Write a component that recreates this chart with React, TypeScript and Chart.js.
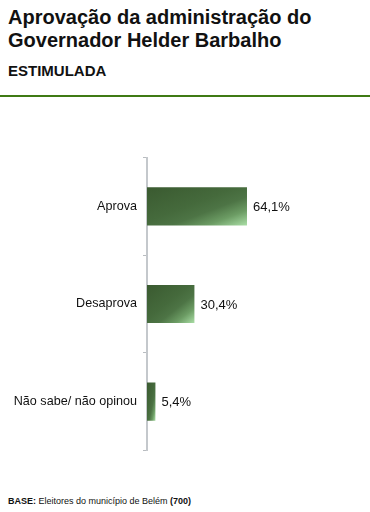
import React, { useEffect, useRef } from "react";
import { Chart, registerables } from "chart.js";

Chart.register(...registerables);

const categories = ["Aprova", "Desaprova", "Não sabe/ não opinou"];
const values = [64.1, 30.4, 5.4];
const valueLabels = ["64,1%", "30,4%", "5,4%"];

const FONT = "'Liberation Sans', Arial, sans-serif";

const valueLabelPlugin = {
  id: "valueLabels",
  afterDatasetsDraw(chart: any) {
    const ctx = chart.ctx;
    const meta = chart.getDatasetMeta(0);
    ctx.save();
    ctx.font = `13px ${FONT}`;
    ctx.fillStyle = "#111";
    ctx.textAlign = "left";
    ctx.textBaseline = "middle";
    meta.data.forEach((bar: any, i: number) => {
      ctx.fillText(valueLabels[i], bar.x + 6, bar.y + 1);
    });
    ctx.restore();
  },
};

function barGradient(context: any) {
  const chart = context.chart;
  const i = context.dataIndex;
  const xs = chart.scales && chart.scales.x;
  const ys = chart.scales && chart.scales.y;
  const fallback = "#426a38";
  if (!xs || !ys || i === undefined) return fallback;
  const x0 = xs.getPixelForValue(0);
  const x1 = xs.getPixelForValue(values[i]);
  const yc = ys.getPixelForValue(i);
  const h = 38;
  if (![x0, x1, yc].every((v) => Number.isFinite(v)) || x1 <= x0) return fallback;
  const w = x1 - x0;
  const top = yc - h / 2;
  // iso-lines parallel to the bar's anti-diagonal
  const k = (2 * w * h) / (w * w + h * h);
  const g = chart.ctx.createLinearGradient(x0, top, x0 + h * k, top + w * k);
  g.addColorStop(0, "#3a5a30");
  g.addColorStop(0.45, "#456a3c");
  g.addColorStop(0.62, "#4d7445");
  g.addColorStop(0.8, "#6c9c64");
  g.addColorStop(1, "#aadea6");
  return g;
}

function ChartView() {
  const ref = useRef<HTMLCanvasElement>(null);
  useEffect(() => {
    if (!ref.current) return;
    const chart = new Chart(ref.current, {
      type: "bar",
      data: {
        labels: categories,
        datasets: [
          {
            data: values,
            backgroundColor: barGradient as any,
            borderWidth: 0,
            barPercentage: 0.78,
            categoryPercentage: 0.5,
          },
        ],
      },
      options: {
        indexAxis: "y",
        animation: false,
        responsive: false,
        maintainAspectRatio: false,
        layout: { padding: { top: 0, bottom: 0, right: 67, left: 0 } },
        plugins: {
          legend: { display: false },
          tooltip: { enabled: false },
        },
        scales: {
          x: {
            display: false,
            min: 0,
            max: 100,
          },
          y: {
            afterFit(scale: any) {
              scale.width = 147;
            },
            grid: {
              offset: true,
              drawOnChartArea: false,
              drawTicks: true,
              tickLength: 4,
              color: "#b8bcc0",
              lineWidth: 1,
            },
            border: { display: true, color: "#c4c8cc", width: 2 },
            ticks: {
              color: "#111",
              font: { family: FONT, size: 12.6 },
              padding: 6,
            },
          },
        },
      },
      plugins: [valueLabelPlugin],
    });
    return () => chart.destroy();
  }, []);
  return (
    <canvas
      ref={ref}
      width={370}
      height={320}
      style={{ position: "absolute", left: 0, top: 144, width: 370, height: 320 }}
    />
  );
}

export default function App() {
  return (
    <div
      style={{
        position: "absolute",
        left: 0,
        top: 0,
        width: 370,
        height: 512,
        background: "#fff",
        fontFamily: FONT,
        color: "#000",
        overflow: "hidden",
      }}
    >
      <div
        style={{
          position: "absolute",
          left: 8,
          top: 6,
          fontSize: 20,
          fontWeight: "bold",
          lineHeight: "23px",
          color: "#111",
        }}
      >
        Aprovação da administração do
        <br />
        Governador Helder Barbalho
      </div>
      <div
        style={{
          position: "absolute",
          left: 8,
          top: 62,
          fontSize: 15,
          fontWeight: "bold",
          color: "#111",
        }}
      >
        ESTIMULADA
      </div>
      <div
        style={{
          position: "absolute",
          left: 0,
          top: 95,
          width: 370,
          height: 2,
          background: "#3f7a14",
        }}
      />
      <ChartView />
      <div
        style={{
          position: "absolute",
          left: 8,
          top: 496,
          fontSize: 9,
          color: "#111",
        }}
      >
        <b>BASE:</b> Eleitores do município de Belém <b>(700)</b>
      </div>
    </div>
  );
}
